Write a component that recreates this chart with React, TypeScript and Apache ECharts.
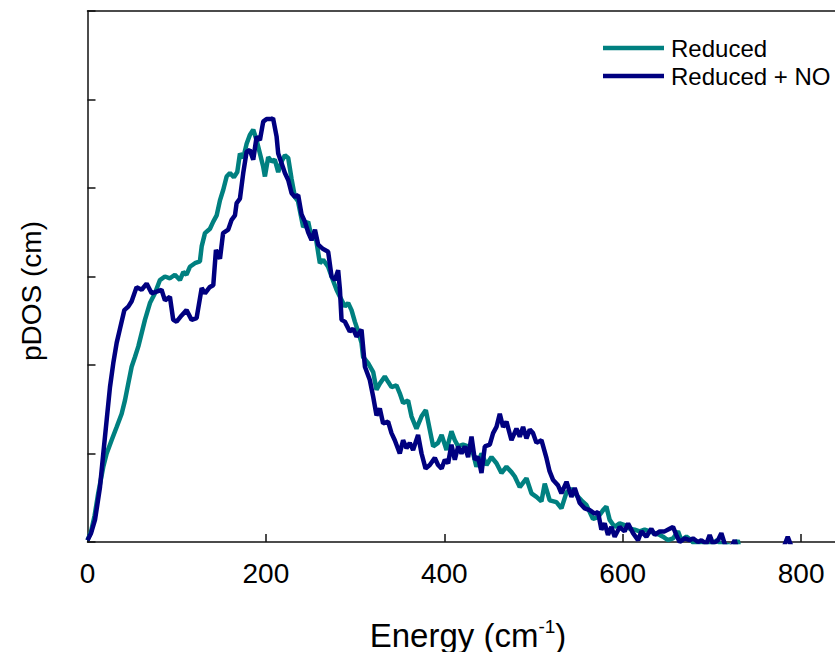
import React, { useEffect, useRef } from "react";
import * as echarts from "echarts";

// Reduced (teal)
const reducedEnergy = [
  0, 4, 8, 12, 17.7, 21.5, 27, 32.7, 38.3, 42, 45.7, 49.5, 53.2, 57, 60.7, 64.4, 70, 75.6, 81.2, 86.8,
  92.4, 98, 103.6, 107.4, 111, 114.8, 120.4, 126, 128, 131.7, 137.3, 141, 144.8, 148.5, 152.2, 156,
  159.7, 164.1, 167.9, 170.9, 174.6, 178.4, 182, 185.8, 189.6, 193.3, 197, 198.9, 202.6, 206.4, 210,
  213.8, 217.6, 221.3, 225, 228.8, 232.5, 236, 241.8, 247.4, 251, 255, 260.5, 264.2, 269.8, 273.6,
  279.2, 283, 288.5, 292.2, 296, 299.7, 303.4, 307.2, 309, 314.6, 320.3, 324, 327.7, 333.3, 337,
  340.8, 346.4, 350.1, 353.8, 359.4, 363.2, 368.8, 374.5, 379.3, 383.7, 387.5, 393, 397, 402.5, 408,
  411.8, 415.5, 421, 426.7, 432.3, 436, 441.7, 447.3, 452.9, 458.5, 464.1, 469.7, 475.3, 479, 484.6,
  492.1, 497.7, 503.3, 508.9, 512.6, 518.2, 525.7, 531.3, 537, 542.5, 548.1, 553.7, 559.3, 566.7,
  572.3, 578, 581.7, 585.4, 591, 596.6, 602.2, 607.8, 613.4, 619, 624.6, 630.3, 635.9, 641.5, 645.2,
  650.8, 656.4, 662, 665.8, 671.4, 677, 682, 688, 694, 700, 706, 712, 718, 724, 729, 733,
];
const reducedValue = [
  0.02, 0.12, 0.3, 0.55, 0.85, 1.0, 1.15, 1.3, 1.45, 1.6, 1.79, 1.98, 2.09, 2.21, 2.36, 2.51, 2.7, 2.81, 2.96, 3.0,
  2.98, 3.02, 2.96, 3.05, 3.02, 3.11, 3.15, 3.17, 3.34, 3.49, 3.54, 3.62, 3.69, 3.86, 3.98, 4.13,
  4.17, 4.12, 4.18, 4.39, 4.34, 4.5, 4.6, 4.66, 4.54, 4.39, 4.24, 4.13, 4.35, 4.3, 4.32,
  4.18, 4.3, 4.37, 4.34, 4.1, 3.9, 3.85, 3.56, 3.62, 3.45, 3.5, 3.15, 3.19, 3.11, 3.0,
  2.85, 2.77, 2.66, 2.7, 2.62, 2.49, 2.38, 2.25, 2.09, 2.02, 1.92, 1.72, 1.79, 1.87, 1.81,
  1.75, 1.77, 1.68, 1.57, 1.6, 1.42, 1.28, 1.42, 1.49, 1.27, 1.08, 1.12, 1.21, 1.04, 1.25,
  1.15, 1.08, 1.1, 1.08, 1.0, 0.85, 1.0, 0.87, 0.96, 0.89, 0.78, 0.85, 0.79, 0.74, 0.62,
  0.72, 0.55, 0.51, 0.46, 0.66, 0.47, 0.45, 0.38, 0.56, 0.6, 0.53, 0.47, 0.42, 0.26,
  0.28, 0.36, 0.4, 0.25, 0.17, 0.21, 0.19, 0.15, 0.14, 0.12, 0.14, 0.12, 0.1, 0.08, 0.06,
  0.02, 0.04, 0.12, 0.02, 0.06, 0.02, -0.05, 0.01, -0.05, -0.02, 0.02, -0.05, -0.03, -0.08, 0.02, -0.2,
];

// Reduced + NO (navy)
const reducedNoEnergy = [
  0, 4, 8.4, 11, 14, 17.7, 21.5, 25.2, 28.9, 32.7, 36.4, 41.3, 45.7, 49.5, 55, 60.7, 66.3, 71.9, 77.5,
  83, 86.8, 92.4, 96.1, 99.9, 105.5, 111, 116.7, 122.3, 128, 131.7, 137, 141, 144, 148.5, 152, 157.8,
  161.6, 165.3, 167.2, 170.9, 174.6, 178.4, 182, 185.8, 189.6, 193.3, 197, 200.8, 206.4, 208, 212,
  213.8, 217.6, 221.3, 225, 228.8, 232.5, 236.2, 240, 243.7, 247.4, 251.2, 255, 258.6, 264.2, 269.8,
  273.6, 277.3, 281, 283, 284.8, 288.5, 294, 297.8, 301.6, 307.2, 311, 316.5, 320.3, 324, 327.7,
  331.4, 337, 340.8, 344.5, 350.1, 353.8, 357.6, 361.3, 365, 370.6, 374.5, 379, 383.7, 389.4, 393,
  397, 400.6, 404.3, 408, 411.8, 415.5, 419.3, 423, 426.7, 430.5, 434.2, 437.9, 441.7, 445.4, 451,
  454.7, 458.5, 462.2, 465.9, 469.7, 475.3, 480.9, 484.6, 488.3, 492.1, 495.8, 499.5, 503.3, 508.9,
  514.5, 518, 522, 527.5, 531.3, 537, 542.5, 546.2, 551.8, 557.4, 563, 568.6, 572.3, 576.1, 579.8,
  583.5, 587.3, 591, 596.6, 602.2, 606, 611.6, 617.2, 621, 626.5, 632.1, 635.9, 641.5, 647, 652.6,
  656.4, 660.1, 663.9, 669.5, 675, 678.8, 684.4, 688.2, 693.8, 697.5, 701.2, 706.8, 710.6, 714.3,
  718, 722, 725.5, 729, 740, 760, 778, 782, 785, 788, 792, 810, 838,
];
const reducedNoValue = [
  0.02, 0.1, 0.25, 0.42, 0.62, 1.0, 1.38, 1.75, 2.02, 2.25, 2.41, 2.62, 2.66, 2.72, 2.88, 2.85, 2.92, 2.81, 2.83,
  2.85, 2.73, 2.77, 2.51, 2.49, 2.56, 2.62, 2.51, 2.53, 2.87, 2.81, 2.88, 2.9, 3.3, 3.2, 3.49, 3.53,
  3.64, 3.69, 3.83, 3.88, 4.17, 4.41, 4.43, 4.32, 4.58, 4.54, 4.75, 4.78, 4.78, 4.79, 4.58,
  4.39, 4.28, 4.17, 4.09, 3.94, 3.9, 3.92, 3.7, 3.62, 3.5, 3.41, 3.53, 3.36, 3.31, 3.28,
  3.0, 2.96, 3.07, 2.85, 2.51, 2.49, 2.38, 2.41, 2.32, 2.4, 1.98, 1.83, 1.64, 1.43, 1.51,
  1.34, 1.36, 1.23, 1.15, 1.0, 1.15, 1.06, 1.12, 1.04, 1.21, 1.0, 0.83, 0.87, 0.95, 0.87,
  0.83, 0.93, 0.89, 1.1, 0.93, 1.08, 1.0, 1.08, 0.96, 1.19, 0.93, 0.96, 0.78, 1.08, 1.1,
  1.23, 1.3, 1.45, 1.3, 1.36, 1.15, 1.28, 1.19, 1.3, 1.17, 1.27, 1.23, 1.12, 1.15,
  0.95, 0.8, 0.7, 0.64, 0.55, 0.68, 0.51, 0.61, 0.44, 0.38, 0.36, 0.32, 0.34, 0.14, 0.21,
  0.08, 0.17, 0.06, 0.17, 0.12, 0.21, 0.1, 0.02, 0.12, 0.06, 0.15, 0.08, 0.12, 0.12, 0.15,
  0.17, 0.08, 0.0, 0.04, 0.02, 0.04, 0.0, 0.02, -0.02, 0.08, -0.02, 0.02, 0.1, -0.02,
  -0.1, -0.05, 0.02, -0.1, -0.2, -0.2, -0.15, -0.02, 0.06, -0.02, -0.15, -0.2, -0.2,
];

const xTicks = [0, 200, 400, 600, 800];
const yTicks = [0, 1, 2, 3, 4, 5, 6];
const seriesNames = ["Reduced", "Reduced + NO"];
const seriesColors = ["#008080", "#000080"];

const FONT = "'Liberation Sans', Arial, sans-serif";

export default function App() {
  const ref = useRef<HTMLDivElement>(null);
  useEffect(() => {
    if (!ref.current) return;
    const chart = echarts.init(ref.current, null, { renderer: "svg" });
    const zip = (xs: number[], ys: number[]) => xs.map((x, i) => [x, ys[i]]);
    const axisLine = { show: true, lineStyle: { color: "#111", width: 1.5 } };
    chart.setOption({
      animation: false,
      backgroundColor: "#fff",
      grid: { left: 87.5, top: 11, right: 0, bottom: 110, containLabel: false },
      legend: {
        show: true,
        orient: "vertical",
        left: 598,
        top: 31,
        itemWidth: 61,
        itemHeight: 4.5,
        itemGap: 4,
        icon: "rect",
        data: seriesNames.map((n, i) => ({ name: n, icon: "rect", itemStyle: { color: seriesColors[i] } })),
        textStyle: { fontFamily: FONT, fontSize: 24, color: "#000", padding: [0, 0, 0, 2] },
      },
      xAxis: [
        {
          type: "value",
          min: 0,
          max: 838,
          interval: 200,
          position: "bottom",
          axisLine: { ...axisLine, onZero: false },
          splitLine: { show: false },
          axisTick: { show: true, inside: true, length: 8, customValues: xTicks, lineStyle: { color: "#111", width: 1.5 } },
          axisLabel: { show: true, customValues: xTicks, margin: 17, fontFamily: FONT, fontSize: 28, color: "#000" },
        },
        {
          type: "value",
          min: 0,
          max: 838,
          position: "top",
          axisLine: { ...axisLine, onZero: false },
          axisTick: { show: false },
          axisLabel: { show: false },
          splitLine: { show: false },
        },
      ],
      yAxis: {
        type: "value",
        min: 0,
        max: 6,
        interval: 1,
        axisLine: { ...axisLine, onZero: false },
        splitLine: { show: false },
        axisTick: { show: true, inside: true, length: 8, customValues: yTicks, lineStyle: { color: "#111", width: 1.5 } },
        axisLabel: { show: false },
      },
      graphic: [
        {
          type: "text",
          x: 31,
          y: 291,
          rotation: Math.PI / 2,
          style: { text: "pDOS (cm)", font: `28px ${FONT}`, fill: "#000", align: "center", verticalAlign: "middle" },
        },
        {
          type: "text",
          x: 468,
          y: 634,
          style: {
            text: "{a|Energy (cm}{s|-1}{a|)}",
            align: "center",
            verticalAlign: "middle",
            rich: {
              a: { fontFamily: FONT, fontSize: 33, color: "#000", lineHeight: 35, verticalAlign: "bottom" },
              s: { fontFamily: FONT, fontSize: 19, color: "#000", lineHeight: 19, verticalAlign: "top" },
            },
          },
        },
      ],
      series: [
        {
          name: seriesNames[0],
          type: "line",
          data: zip(reducedEnergy, reducedValue),
          showSymbol: false,
          symbol: "none",
          clip: true,
          lineStyle: { color: seriesColors[0], width: 4.5 },
          itemStyle: { color: seriesColors[0] },
        },
        {
          name: seriesNames[1],
          type: "line",
          data: zip(reducedNoEnergy, reducedNoValue),
          showSymbol: false,
          symbol: "none",
          clip: true,
          lineStyle: { color: seriesColors[1], width: 4.5 },
          itemStyle: { color: seriesColors[1] },
        },
      ],
    });
    return () => chart.dispose();
  }, []);
  return <div ref={ref} style={{ position: "fixed", left: 0, top: 0, width: 835, height: 652 }} />;
}
